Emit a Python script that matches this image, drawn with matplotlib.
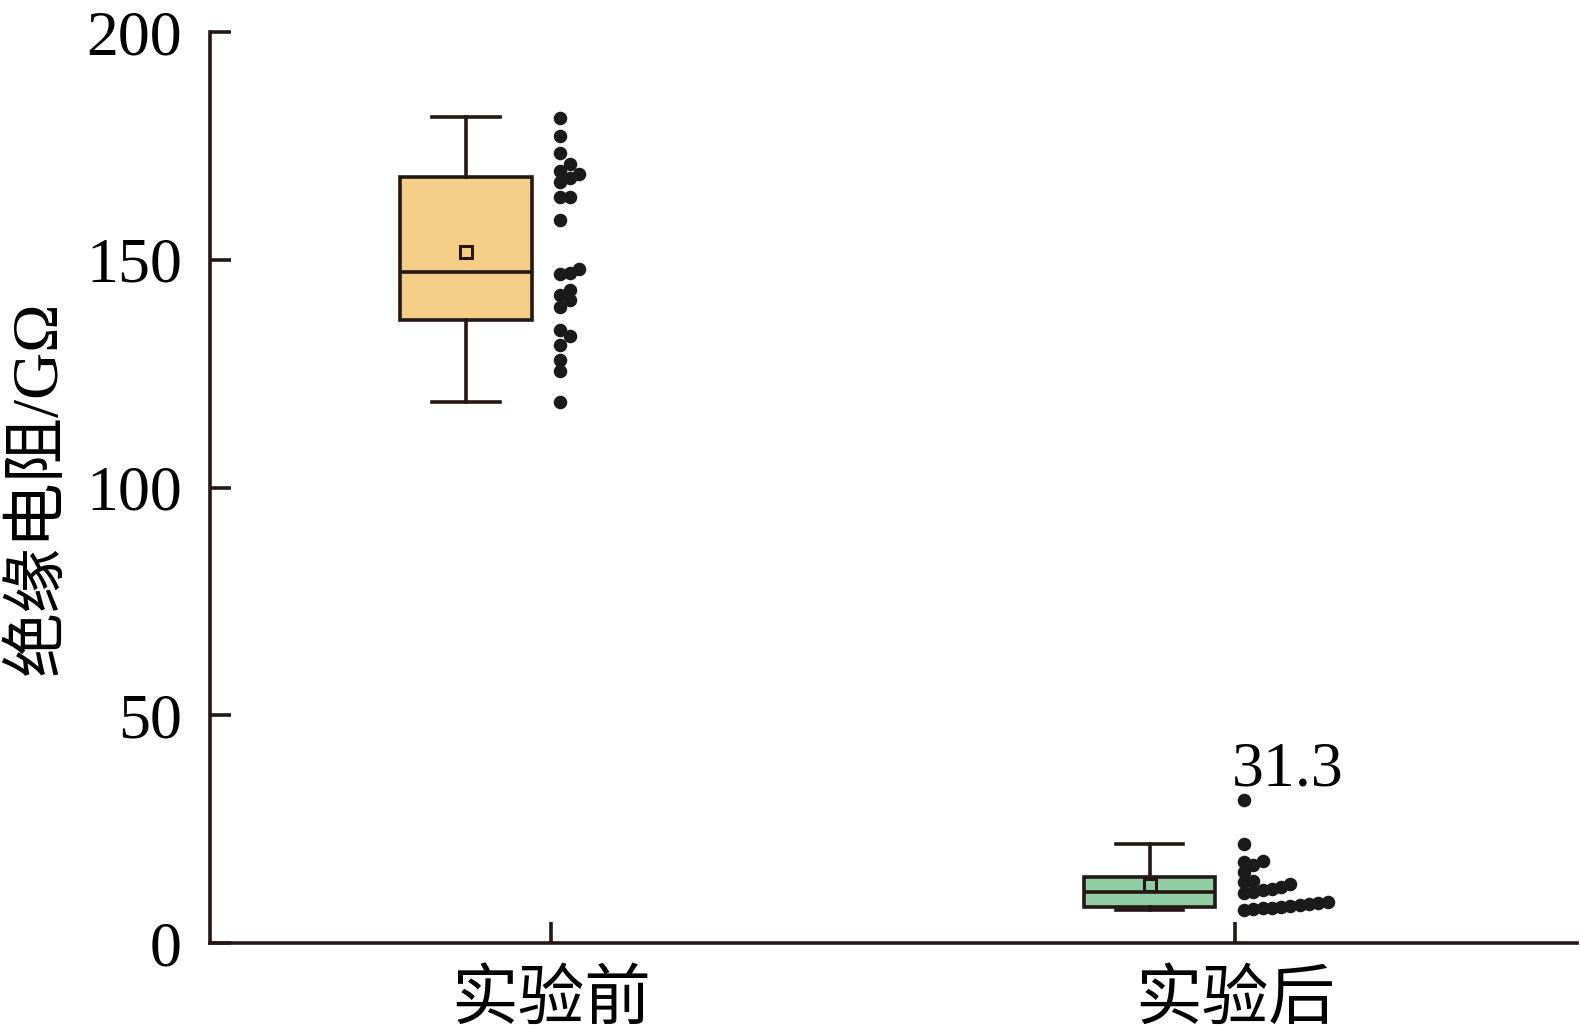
import numpy as np
import matplotlib
matplotlib.use("Agg")
import matplotlib.pyplot as plt

plt.rcParams['font.family'] = ['Liberation Serif', 'Noto Sans CJK SC']

# 数据
categories = ["实验前", "实验后"]
before = [118.9, 125.5, 128.0, 131.3, 133.3, 134.5, 139.7, 141.2, 142.3, 143.3,
          146.9, 147.2, 148.0, 158.8, 163.9, 163.9, 167.2, 167.9, 168.8, 169.5,
          171.0, 173.4, 177.3, 181.2]
after = [7.3, 7.4, 7.6, 7.7, 7.9, 8.1, 8.3, 8.6, 8.8, 9.1,
         11.0, 11.3, 11.6, 11.9, 12.4, 13.0,
         13.5, 13.7, 15.6, 17.2, 17.7, 18.1, 21.8, 31.3]
# 箱线图统计量
whislo = [118.7, 7.3]
q1 = [136.8, 7.9]
med = [147.3, 11.2]
mean = [151.7, 12.8]
q3 = [168.3, 14.6]
whishi = [181.3, 21.8]
max_label = "31.3"

box_colors = ["#F5CF87", "#91CDA2"]
edge = "#231815"
lw = 2.6

W, H, DPI = 1580, 1032, 100
fig = plt.figure(figsize=(W / DPI, H / DPI), dpi=DPI)
ax = fig.add_axes([0.1327, 0.0862, 0.998 - 0.1327, 0.9688 - 0.0862])
ax.set_xlim(0.5, 2.5)
ax.set_ylim(0, 200)

# 箱线图
stats = []
for i in range(2):
    stats.append(dict(whislo=whislo[i], q1=q1[i], med=med[i], mean=mean[i],
                      q3=q3[i], whishi=whishi[i], fliers=[]))
pos = np.arange(1, 3) - 0.125
bp = ax.bxp(stats, positions=pos, widths=0.192, capwidths=0.099,
            patch_artist=True, showmeans=True, manage_ticks=False,
            boxprops=dict(linewidth=lw, edgecolor=edge),
            whiskerprops=dict(linewidth=lw, color=edge),
            capprops=dict(linewidth=lw, color=edge),
            medianprops=dict(linewidth=lw, color=edge),
            meanprops=dict(marker='s', markersize=8.5, markerfacecolor='none',
                           markeredgecolor=edge, markeredgewidth=2.2))
for patch, c in zip(bp['boxes'], box_colors):
    patch.set_facecolor(c)

# 散点 (蜂群, 单侧)
ax_w_px = (0.998 - 0.1327) * W
ax_h_px = (0.9688 - 0.0862) * H
px_per_y = ax_h_px / 200
step = 9.3 / (ax_w_px / 2.0)
thresh = 9.5
for i, vals in enumerate([before, after]):
    placed = []
    for v in sorted(vals):
        k = 0
        while any(c == k and abs(v - p) * px_per_y < thresh for c, p in placed):
            k += 1
        placed.append((k, v))
    xs = [i + 1 + 0.013 + c * step for c, _ in placed]
    ys = [p for _, p in placed]
    ax.scatter(xs, ys, s=95, color="#1a1a1a", zorder=3, linewidths=0)

# 最大值标注
ax.annotate(max_label, xy=(2 + 0.013, max(after)), xytext=(-9, 11),
            textcoords='offset points', ha='left', va='baseline', fontsize=46,
            family='Liberation Serif')

# 坐标轴
for s in ['top', 'right']:
    ax.spines[s].set_visible(False)
for s in ['left', 'bottom']:
    ax.spines[s].set_linewidth(lw)
    ax.spines[s].set_color(edge)
ax.set_yticks([0, 50, 100, 150, 200])
ax.set_xticks([1, 2])
ax.set_xticklabels(categories, family=['Noto Sans CJK SC'], fontsize=48)
ax.tick_params(axis='y', direction='in', length=15, width=lw, color=edge,
               labelsize=46, pad=20)
ax.tick_params(axis='x', direction='in', length=15, width=lw, color=edge, pad=17)
ax.set_ylabel("绝缘电阻/GΩ", fontsize=47, labelpad=12,
              family=['Liberation Serif', 'Noto Sans CJK SC'])

fig.savefig("out.png", dpi=DPI)
